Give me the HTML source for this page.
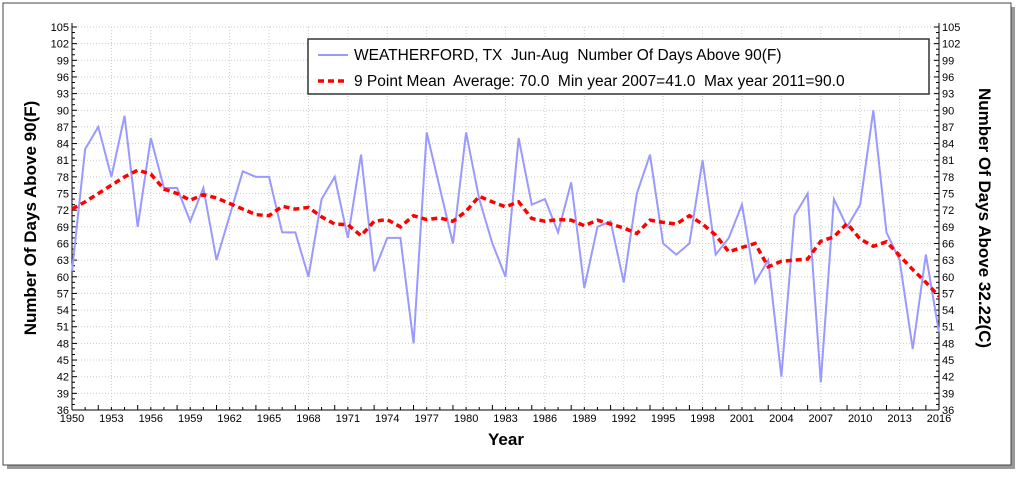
<!DOCTYPE html>
<html><head><meta charset="utf-8">
<style>
html,body{margin:0;padding:0;background:#fff;width:1024px;height:479px;overflow:hidden}
svg{display:block;font-family:"Liberation Sans",Tahoma,sans-serif}
</style></head><body>
<svg id="s" width="1024" height="479" xmlns="http://www.w3.org/2000/svg"></svg>
<script>
const s=document.getElementById('s');
const X0=72,X1=939,Y0=27,Y1=410;
const xs=y=>X0+(y-1950)*(X1-X0)/66, ys=v=>Y1-(v-36)*(Y1-Y0)/69;
let h='';
h+='<rect x="7" y="7" width="1008" height="462" fill="#555" opacity="0.6"/>';
h+='<rect x="3" y="3" width="1008" height="462" fill="#fff" stroke="#444" stroke-width="1"/>';
for(let v=39;v<=105;v+=3)h+=`<line x1="${X0}" x2="${X1}" y1="${ys(v)}" y2="${ys(v)}" stroke="#ccc" stroke-dasharray="1,2"/>`;
for(let y=1953;y<2016;y+=3)h+=`<line x1="${xs(y)}" x2="${xs(y)}" y1="${Y0}" y2="${Y1}" stroke="#ccc" stroke-dasharray="1,2"/>`;
h+=`<line x1="${X0}" x2="${X0}" y1="${Y0-4}" y2="${Y1}" stroke="#000"/><line x1="${X1}" x2="${X1}" y1="${Y0-4}" y2="${Y1}" stroke="#000"/><line x1="${X0}" x2="${X1}" y1="${Y1}" y2="${Y1}" stroke="#000"/>`;
for(let v=36;v<=105;v++){const L=v%3==0?5:3,y=ys(v);h+=`<line x1="${X0}" x2="${X0+L}" y1="${y}" y2="${y}" stroke="#000"/><line x1="${X1}" x2="${X1-L}" y1="${y}" y2="${y}" stroke="#000"/>`;
 if(v%3==0){h+=`<text x="${X0-3}" y="${y+4}" font-size="11" text-anchor="end">${v}</text><text x="${X1+3}" y="${y+4}" font-size="11">${v}</text>`;}}
for(let yr=1950;yr<=2016;yr++){const x=xs(yr),L=yr%3==2?5:3;h+=`<line x1="${x}" x2="${x}" y1="${Y1}" y2="${Y1-L}" stroke="#000"/>`;
 if((yr-1950)%3==0)h+=`<text x="${x}" y="${Y1+12}" font-size="11" text-anchor="middle">${yr}</text>`;}
const d=[61,83,87,78,89,69,85,76,76,70,76,63,71,79,78,78,68,68,60,74,78,67,82,61,67,67,48,86,76,66,86,74,66,60,85,73,74,68,77,58,69,70,59,75,82,66,64,66,81,64,67,73,59,63,42,71,75,41,74,69,73,90,68,63,47,64,50];
const m=[72.2,73.5,75,76.5,78,79.2,78.5,75.8,75,73.8,74.8,74.2,73.2,72.2,71.2,71,72.7,72.2,72.5,70.8,69.5,69.4,67.4,70,70.3,69,71,70.3,70.6,70,71.8,74.5,73.5,72.6,73.5,70.5,70,70.3,70.2,69.2,70.2,69.5,68.8,67.8,70.2,69.8,69.5,71,69.5,67.5,64.5,65.3,66,61.8,62.8,63,63.2,66.4,67.2,69.6,66.8,65.5,66.3,63.8,61.3,59,56.5];
h+=`<polyline fill="none" stroke="#9999ff" stroke-width="2" points="${d.map((v,i)=>xs(1950+i)+','+ys(v)).join(' ')}"/>`;
h+=`<polyline fill="none" stroke="#f00" stroke-width="3.5" stroke-dasharray="6,4" points="${m.map((v,i)=>xs(1950+i)+','+ys(v)).join(' ')}"/>`;
h+='<rect x="308" y="39" width="621" height="55" fill="#fff" stroke="#333" stroke-width="1.5"/>';
h+='<line x1="318" x2="348" y1="55" y2="55" stroke="#9999ff" stroke-width="2"/><line x1="318" x2="348" y1="81" y2="81" stroke="#f00" stroke-width="3.5" stroke-dasharray="6,4"/>';
h+='<text x="354" y="60" font-size="15.5" xml:space="preserve">WEATHERFORD, TX  Jun-Aug  Number Of Days Above 90(F)</text>';
h+='<text x="354" y="86" font-size="15.5" xml:space="preserve">9 Point Mean  Average: 70.0  Min year 2007=41.0  Max year 2011=90.0</text>';
h+='<text transform="translate(36,218) rotate(-90)" font-size="17" font-weight="bold" text-anchor="middle">Number Of Days Above 90(F)</text>';
h+='<text transform="translate(979,218) rotate(90)" font-size="17" font-weight="bold" text-anchor="middle">Number Of Days Above 32.22(C)</text>';
h+='<text x="506" y="445" font-size="17" font-weight="bold" text-anchor="middle">Year</text>';
s.innerHTML=h;
</script>
</body></html>
